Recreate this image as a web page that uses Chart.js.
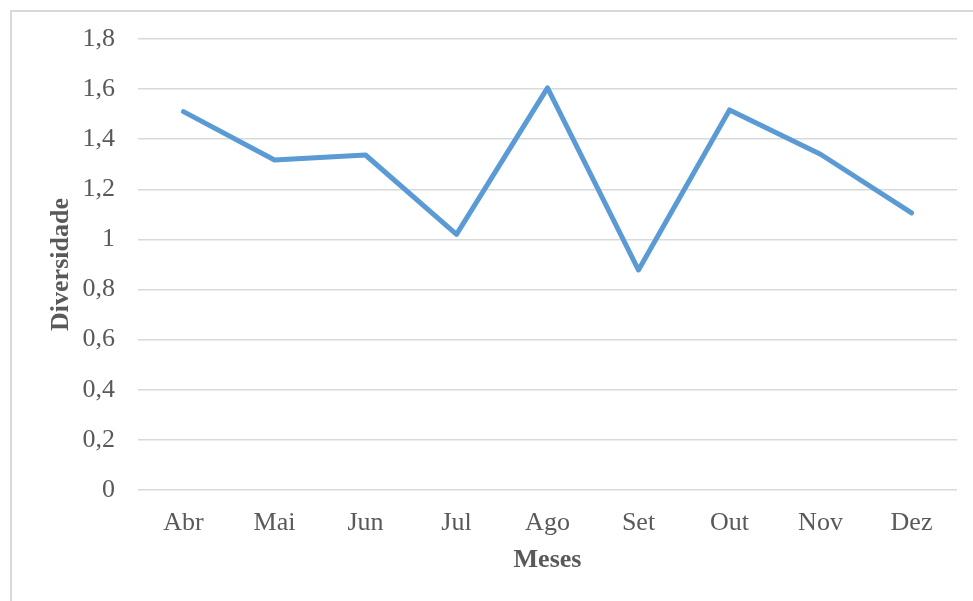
<!DOCTYPE html>
<html>
<head>
<meta charset="utf-8">
<script src="https://cdn.jsdelivr.net/npm/chart.js@4"></script>
<style>
  html, body { margin: 0; padding: 0; background: #fff; }
  #wrap { position: relative; width: 973px; height: 601px; overflow: hidden; }
  #frame { position: absolute; left: 10px; top: 10px; width: 1000px; height: 700px;
           border-left: 2px solid #d9d9d9; border-top: 2px solid #d9d9d9; }
  #myChart { position: absolute; left: 0; top: 0; }
</style>
</head>
<body>
<div id="wrap">
  <div id="frame"></div>
  <canvas id="myChart" width="973" height="601"></canvas>
</div>
<script>
// DATA
const meses = ['Abr', 'Mai', 'Jun', 'Jul', 'Ago', 'Set', 'Out', 'Nov', 'Dez'];
const diversidade = [1.51, 1.317, 1.337, 1.02, 1.605, 0.878, 1.517, 1.34, 1.106];

const textColor = '#595959';
const serif = "'Liberation Serif', 'Times New Roman', serif";

const data = {
  labels: meses,
  datasets: [{
    label: 'Diversidade',
    data: diversidade,
    borderColor: '#5b9bd5',
    backgroundColor: '#5b9bd5',
    borderWidth: 5,
    pointRadius: 0,
    tension: 0,
    borderJoinStyle: 'round',
    borderCapStyle: 'round'
  }]
};

const config = {
  type: 'line',
  data: data,
  options: {
    responsive: false,
    animation: false,
    layout: { padding: { top: 39, right: 16, bottom: 0, left: 0 } },
    plugins: {
      legend: { display: false },
      tooltip: { enabled: false }
    },
    scales: {
      x: {
        offset: true,
        grid: { display: false, drawTicks: false },
        border: { display: false },
        ticks: { color: textColor, font: { family: serif, size: 26 }, padding: 18, maxRotation: 0 },
        title: {
          display: true, text: 'Meses', color: textColor,
          font: { family: serif, size: 26, weight: 'bold' },
          padding: { top: 0, bottom: 25 }
        },
        afterFit: (scale) => { scale.height = 111; }
      },
      y: {
        min: 0,
        max: 1.8,
        ticks: {
          stepSize: 0.2, color: textColor, padding: 23,
          font: { family: serif, size: 26 },
          callback: (v) => (Math.round(v * 10) / 10).toString().replace('.', ',')
        },
        grid: { color: '#d9d9d9', lineWidth: 1.5, drawTicks: false },
        border: { display: false },
        title: {
          display: true, text: 'Diversidade', color: textColor,
          font: { family: serif, size: 26, weight: 'bold' },
          padding: { top: 46, bottom: 0 }
        },
        afterFit: (scale) => { scale.width = 138; }
      }
    }
  }
};

const myChart = new Chart(document.getElementById('myChart'), config);
</script>
</body>
</html>
